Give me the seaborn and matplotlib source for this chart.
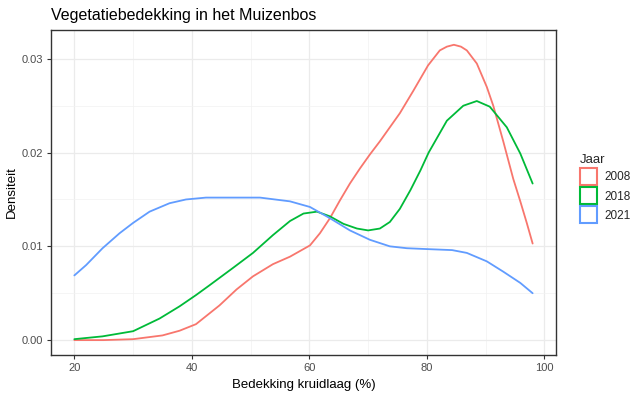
import pandas as pd
import numpy as np
import matplotlib
matplotlib.use("Agg")
import matplotlib.pyplot as plt
from matplotlib.patches import Patch
from matplotlib.ticker import MultipleLocator
import seaborn as sns

# density curves (x = bedekking %, y = densiteit)
x_2008 = [20, 25, 30, 35, 37.9, 40.7, 42.9, 44.7, 47.6, 50.4, 53.8, 56.7, 60.1, 61.8, 63.5, 65.2, 66.9, 68.6, 70.3,
          72.0, 73.7, 75.4, 77.7, 80.2, 82.2, 83.4, 84.6, 85.8, 86.8, 88.5, 90.2, 91.3, 93.0, 94.7, 95.9, 97.0, 98]
y_2008 = [0, 0, 0.0001, 0.0005, 0.0010, 0.0017, 0.0028, 0.0037, 0.0054, 0.0068, 0.0081, 0.0089, 0.0101, 0.0114,
          0.0130, 0.0149, 0.0167, 0.0183, 0.0198, 0.0212, 0.0227, 0.0242, 0.0266, 0.0293, 0.0309, 0.0313, 0.0315,
          0.0313, 0.0309, 0.0295, 0.0270, 0.0250, 0.0212, 0.0172, 0.0148, 0.0125, 0.0103]

x_2018 = [20, 24.8, 30, 34.5, 37.9, 40.7, 42.9, 47.0, 50.4, 53.8, 56.7, 59.0, 61.3, 63.5, 65.8, 68.1, 70.0, 72.0,
          73.7, 75.4, 77.2, 78.9, 80.3, 83.4, 86.2, 88.5, 90.7, 93.6, 95.9, 98]
y_2018 = [0.0001, 0.0004, 0.00095, 0.0023, 0.0036, 0.0048, 0.0058, 0.0077, 0.0093, 0.0112, 0.0127, 0.0135, 0.0137,
          0.0132, 0.0124, 0.0119, 0.0117, 0.0119, 0.0126, 0.0140, 0.0160, 0.0181, 0.0200, 0.0234, 0.0250, 0.0255,
          0.0249, 0.0227, 0.0199, 0.0167]

x_2021 = [20, 22.0, 24.8, 27.7, 30, 32.8, 36.2, 39.0, 42.4, 46, 51.6, 56.7, 60.1, 63.5, 66.9, 70.3, 73.7, 76.6,
          80.3, 84.3, 86.8, 90.2, 93.0, 95.9, 98]
y_2021 = [0.0069, 0.0080, 0.0098, 0.0114, 0.0125, 0.0137, 0.0146, 0.0150, 0.0152, 0.0152, 0.0152, 0.0148, 0.0142,
          0.0130, 0.0117, 0.0107, 0.0100, 0.0098, 0.0097, 0.0096, 0.0093, 0.0084, 0.0073, 0.0061, 0.0050]

jaren = ["2008", "2018", "2021"]
kleuren = ["#F8766D", "#00BA38", "#619CFF"]

df = pd.concat([
    pd.DataFrame({"x": x_2008, "y": y_2008, "Jaar": "2008"}),
    pd.DataFrame({"x": x_2018, "y": y_2018, "Jaar": "2018"}),
    pd.DataFrame({"x": x_2021, "y": y_2021, "Jaar": "2021"}),
])

sns.set_style("white")
plt.rcParams["font.family"] = ["Liberation Sans", "DejaVu Sans"]

fig = plt.figure(figsize=(6.43, 3.97), dpi=100)
ax = fig.add_axes([0.080, 0.106, 0.784, 0.819])  # panel as in the reference

sns.lineplot(data=df, x="x", y="y", hue="Jaar", palette=dict(zip(jaren, kleuren)), estimator=None,
             linewidth=1.3, legend=False, ax=ax, zorder=3)

# ggplot-like limits (5% expansion)
ax.set_xlim(16.1, 101.9)
ax.set_ylim(-0.00158, 0.0331)
ax.xaxis.set_major_locator(MultipleLocator(20))
ax.xaxis.set_minor_locator(MultipleLocator(10))
ax.yaxis.set_major_locator(MultipleLocator(0.01))
ax.yaxis.set_minor_locator(MultipleLocator(0.005))
ax.set_yticks([0, 0.01, 0.02, 0.03])
ax.set_yticklabels(["0.00", "0.01", "0.02", "0.03"])

ax.grid(which="major", color="#EBEBEB", linewidth=0.9)
ax.grid(which="minor", color="#F2F2F2", linewidth=0.5)
ax.set_axisbelow(True)
for s in ax.spines.values():
    s.set_color("#333333")
    s.set_linewidth(1.0)
ax.tick_params(which="major", length=3, width=0.8, color="#333333", labelcolor="#4D4D4D", labelsize=8, pad=3,
               bottom=True, left=True)
ax.tick_params(which="minor", length=0)

ax.set_xlabel("Bedekking kruidlaag (%)", fontsize=9.5, color="black", labelpad=4)
ax.set_ylabel("Densiteit", fontsize=9.5, color="black", labelpad=3)
ax.set_title("Vegetatiebedekking in het Muizenbos", loc="left", fontsize=11.5, color="black", pad=7)

handles = [Patch(facecolor="white", edgecolor=c, linewidth=1.5, label=j) for j, c in zip(jaren, kleuren)]
fig.legend(handles=handles, title="Jaar", loc="center left", bbox_to_anchor=(0.885, 0.525), frameon=False,
           fontsize=8.5, title_fontsize=9.5, handlelength=1.5, handleheight=1.8, handletextpad=0.6,
           labelspacing=0.2, alignment="left")

fig.savefig("out.png", dpi=100)
